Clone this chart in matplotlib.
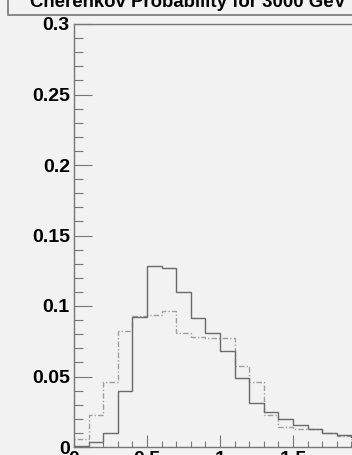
import matplotlib
matplotlib.use("Agg")
import matplotlib.pyplot as plt
import numpy as np
from matplotlib.patches import Rectangle

# data
bin_edges = [0.0, 0.1, 0.2, 0.3, 0.4, 0.5, 0.6, 0.7, 0.8, 0.9, 1.0,
             1.1, 1.2, 1.3, 1.4, 1.5, 1.6, 1.7, 1.8, 1.9, 2.0]
solid_vals = [0.001, 0.0034, 0.0101, 0.0395, 0.0924, 0.1284, 0.1267, 0.1097,
              0.0915, 0.0811, 0.068, 0.0489, 0.031, 0.0246, 0.0196, 0.0156,
              0.0125, 0.0101, 0.0083, 0.007]
dashed_vals = [0.0057, 0.0227, 0.0459, 0.0825, 0.0929, 0.0936, 0.0967, 0.0809,
               0.0778, 0.0775, 0.0771, 0.0572, 0.0459, 0.0227, 0.0142, 0.0125,
               0.013, 0.0101, 0.0078, 0.006]
title = "Cherenkov Probability for 3000 GeV"
ytick_vals = [0, 0.05, 0.1, 0.15, 0.2, 0.25, 0.3]
ytick_labels = ["0", "0.05", "0.1", "0.15", "0.2", "0.25", "0.3"]
xtick_vals = [0, 0.5, 1, 1.5]
xtick_labels = ["0", "0.5", "1", "1.5"]

bg = "#f2f2f2"
W, H = 352, 455
plt.rcParams['font.family'] = ['Liberation Sans', 'DejaVu Sans']
fig = plt.figure(figsize=(W / 100, H / 100), dpi=100, facecolor=bg)

left = 74 / W
bottom = (H - 447) / H
top = (H - 24) / H
width = 292 / W
ax = fig.add_axes([left, bottom, width, top - bottom], facecolor=bg)

edges = np.array(bin_edges)
ax.stairs(dashed_vals, edges, color="#a0a0a0", lw=1.0,
          linestyle=(0, (4, 1.5, 1, 1.5)))
ax.stairs(solid_vals, edges, color="#6a6a6a", lw=1.0)

ax.set_xlim(0, 2.0)
ax.set_ylim(0, 0.3)
ax.set_yticks(ytick_vals)
ax.set_yticklabels(ytick_labels, fontweight="bold", fontsize=14)
ax.set_yticks(np.arange(0, 0.3001, 0.01), minor=True)
ax.set_xticks(xtick_vals)
ax.set_xticklabels(xtick_labels, fontweight="bold", fontsize=14)
ax.set_xticks(np.arange(0, 2.001, 0.1), minor=True)
ax.tick_params(axis="y", which="major", direction="in", length=13, width=0.8, color="#777777", pad=3)
ax.tick_params(axis="y", which="minor", direction="in", length=6.5, width=0.8, color="#777777")
ax.tick_params(axis="x", which="major", direction="in", length=9, width=0.8, color="#777777", pad=3)
ax.tick_params(axis="x", which="minor", direction="in", length=4.5, width=0.8, color="#777777")
for s in ax.spines.values():
    s.set_color("#777777")
    s.set_linewidth(1)

# title box
fig.patches.append(Rectangle((8 / W, 1 - 15 / H), 2, 1, transform=fig.transFigure,
                             facecolor=bg, edgecolor="#777777", lw=1.2, zorder=0))
fig.text(30 / W, (H - 7) / H, title, fontsize=13.4, fontweight="bold",
         va="baseline", ha="left")

fig.savefig("out.png", dpi=100, facecolor=bg)
